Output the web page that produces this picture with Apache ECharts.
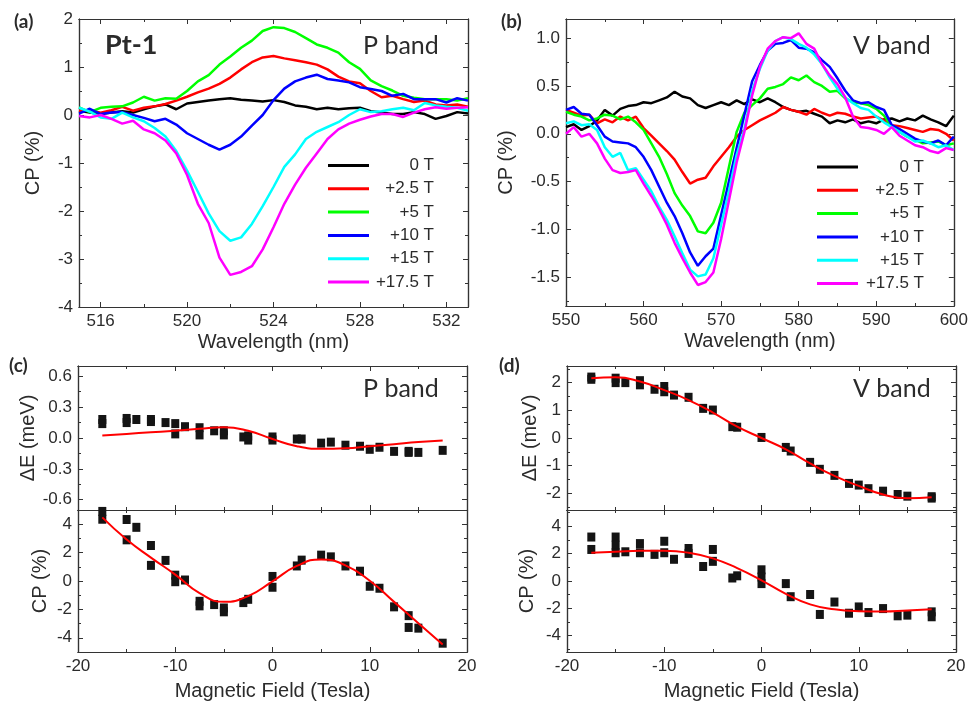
<!DOCTYPE html>
<html><head><meta charset="utf-8">
<script src="https://cdn.jsdelivr.net/npm/echarts@6/dist/echarts.min.js"></script>
<style>html,body{margin:0;padding:0;background:#fff}#c{width:971px;height:702px}</style>
</head><body><div id="c"></div>
<script>
// ---------- DATA ----------
const seriesNames = ['0 T', '+2.5 T', '+5 T', '+10 T', '+15 T', '+17.5 T'];
const seriesColors = ['#000000', '#ff0000', '#00ff00', '#0000ff', '#00ffff', '#ff00ff'];

// (a) P band spectra
const wlP = [515,515.5,516,516.5,517,517.5,518,518.5,519,519.5,520,520.5,521,521.5,522,522.5,523,523.5,524,524.5,525,525.5,526,526.5,527,527.5,528,528.5,529,529.5,530,530.5,531,531.5,532,532.5,533];
const p0T = [0.09,0.05,0.02,0.05,0.08,0.05,0.12,0.18,0.22,0.12, 0.24,0.27,0.30,0.33,0.35,0.32,0.30,0.28,0.31,0.27, 0.20,0.17,0.12,0.15,0.12,0.14,0.15,0.08,0.05,0.02, 0.02,0.06,0.02,-0.08,-0.02,0.06,0.03];
const p2_5T = [0.09,0.10,0.05,0.10,0.17,0.09,0.15,0.18,0.23,0.30, 0.38,0.47,0.55,0.65,0.78,0.95,1.10,1.20,1.23,1.18, 1.14,1.10,1.05,0.95,0.80,0.70,0.66,0.50,0.37,0.40, 0.33,0.27,0.30,0.22,0.20,0.22,0.17];
const p5T = [0.16,0.06,0.15,0.17,0.18,0.26,0.38,0.30,0.35,0.34, 0.50,0.70,0.83,1.05,1.22,1.40,1.55,1.75,1.83,1.81, 1.73,1.60,1.47,1.40,1.30,1.10,0.96,0.72,0.60,0.51, 0.40,0.36,0.33,0.33,0.33,0.30,0.35];
const p10T = [0.03,0.13,0.02,0.05,0.06,0.00,-0.06,-0.13,-0.08,-0.20, -0.38,-0.50,-0.62,-0.72,-0.62,-0.45,-0.22,0.00,0.31,0.55, 0.70,0.78,0.84,0.75,0.72,0.68,0.58,0.54,0.50,0.40, 0.44,0.33,0.33,0.33,0.26,0.35,0.30];
const p15T = [0.15,0.07,-0.05,-0.08,0.05,-0.05,-0.13,-0.27,-0.45,-0.75, -1.16,-1.60,-2.05,-2.42,-2.62,-2.55,-2.27,-1.90,-1.50,-1.08, -0.82,-0.50,-0.35,-0.25,-0.15,0.00,0.12,0.06,0.08,0.12, 0.15,0.10,0.25,0.20,0.17,0.15,0.09];
const p17_5T = [-0.02,-0.05,0.00,-0.08,-0.18,-0.12,-0.30,-0.38,-0.53,-0.80, -1.25,-1.85,-2.25,-2.97,-3.33,-3.27,-3.15,-2.80,-2.34,-1.85, -1.45,-1.10,-0.80,-0.50,-0.30,-0.18,-0.10,-0.03,0.02,0.02, -0.04,0.05,0.12,0.16,0.13,0.15,0.16];

// (b) V band spectra
const wlV = [550,551,552,553,554,555,556,557,558,559,560,561,562,563,564,565,566,567,568,569,570,571,572,573,574,575,576,577,578,579,580,581,582,583,584,585,586,587,588,589,590,591,592,593,594,595,596,597,598,599,600];
const v0T = [0.07,0.10,0.04,0.08,0.14,0.25,0.19,0.26,0.29,0.30, 0.33,0.32,0.35,0.38,0.44,0.39,0.37,0.30,0.27,0.30, 0.33,0.30,0.35,0.31,0.36,0.33,0.37,0.33,0.28,0.25, 0.23,0.24,0.21,0.18,0.11,0.14,0.12,0.15,0.11,0.13, 0.11,0.15,0.16,0.13,0.16,0.14,0.19,0.15,0.12,0.08,0.19];
const v2_5T = [0.25,0.22,0.19,0.20,0.11,0.15,0.12,0.18,0.14,0.18, 0.06,-0.02,-0.10,-0.18,-0.27,-0.40,-0.52,-0.48,-0.46,-0.34, -0.24,-0.14,-0.03,0.04,0.09,0.14,0.18,0.22,0.28,0.25, 0.23,0.20,0.26,0.22,0.19,0.22,0.21,0.18,0.16,0.17, 0.18,0.14,0.09,0.08,0.06,0.04,0.02,0.05,0.04,0.00,-0.07];
const v5T = [0.23,0.20,0.18,0.14,0.16,0.20,0.19,0.15,0.18,0.12, 0.04,-0.10,-0.24,-0.42,-0.62,-0.75,-0.86,-1.02,-1.04,-0.93, -0.72,-0.35,0.02,0.22,0.30,0.37,0.47,0.49,0.52,0.59, 0.56,0.61,0.54,0.50,0.44,0.45,0.37,0.33,0.32,0.30, 0.26,0.19,0.07,0.02,-0.03,-0.06,-0.10,-0.09,-0.08,-0.12,-0.10];
const v10T = [0.25,0.28,0.21,0.20,0.09,-0.03,-0.08,-0.09,-0.10,-0.14, -0.24,-0.38,-0.55,-0.72,-0.86,-1.04,-1.24,-1.38,-1.28,-1.20, -0.85,-0.50,-0.15,0.20,0.55,0.72,0.87,0.94,0.95,0.98, 0.90,0.89,0.85,0.77,0.70,0.58,0.45,0.35,0.32,0.33, 0.28,0.25,0.09,0.05,0.00,-0.05,-0.08,-0.10,-0.07,-0.12,-0.03];
const v15T = [0.11,0.13,0.09,0.10,0.04,-0.14,-0.24,-0.20,-0.38,-0.36, -0.48,-0.60,-0.76,-0.90,-1.07,-1.25,-1.42,-1.49,-1.47,-1.30, -0.95,-0.60,-0.22,0.05,0.45,0.68,0.87,0.97,1.01,0.99, 0.94,0.90,0.83,0.73,0.59,0.47,0.38,0.32,0.27,0.25, 0.18,0.12,0.07,0.02,-0.03,-0.08,-0.07,-0.10,-0.14,-0.12,-0.17];
const v17_5T = [0.00,0.07,-0.03,0.00,-0.10,-0.26,-0.38,-0.41,-0.40,-0.38, -0.52,-0.65,-0.79,-0.95,-1.14,-1.30,-1.45,-1.58,-1.55,-1.45, -1.10,-0.70,-0.30,0.02,0.40,0.70,0.89,0.97,1.01,1.00, 1.05,0.94,0.89,0.73,0.61,0.52,0.38,0.18,0.07,0.06, 0.04,0.00,0.07,-0.02,-0.07,-0.12,-0.14,-0.18,-0.20,-0.15,-0.17];

// (c) P band vs field
const cFieldE = [-17.5,-17.5,-15,-15,-14,-12.5,-12.5,-11,-10,-10,-9,-7.5,-7.5,-6,-5,-5,-3,-2.5,-2.5,0,0,2.5,3,5,6,7.5,9,10,11,12.5,14,14,15,17.5];
const cDE = [0.18,0.14,0.19,0.15,0.18,0.18,0.16,0.15,0.14,0.04,0.11,0.10,0.03,0.07,0.07,0.03,0.01,0.02,-0.02,0.01,-0.02,-0.01,-0.01,-0.05,-0.04,-0.07,-0.08,-0.11,-0.09,-0.13,-0.13,-0.14,-0.14,-0.12];
const cFieldCP = [-17.5,-17.5,-15,-15,-14,-12.5,-12.5,-11,-10,-10,-9,-7.5,-7.5,-6,-5,-5,-3,-2.5,0,0,2.5,3,5,6,7.5,9,10,11,12.5,14,14,15,17.5];
const cCP = [4.9,4.35,4.33,2.9,3.78,2.5,1.1,1.45,0.41,-0.05,0.07,-1.43,-1.75,-1.66,-1.9,-2.17,-1.52,-1.29,0.32,-0.44,1.06,1.47,1.82,1.7,1.06,0.69,-0.37,-0.51,-1.82,-2.44,-3.27,-3.32,-4.38];
const fitField = [-17.5,-15,-12.5,-10,-7.5,-5,-2.5,0,2.5,5,7.5,10,12.5,15,17.5];
const cFitE = [0.025,0.04,0.055,0.07,0.09,0.105,0.07,-0.01,-0.08,-0.105,-0.1,-0.08,-0.06,-0.04,-0.025];
const cFitCP = [4.48,2.92,1.65,0.45,-0.85,-1.47,-1.06,-0.02,1.06,1.52,1.1,0.02,-1.47,-2.97,-4.47];

// (d) V band vs field
const dFieldE = [-17.5,-17.5,-15,-15,-14,-12.5,-12.5,-11,-10,-10,-9,-7.5,-6,-5,-3,-2.5,0,2.5,3,5,6,7.5,9,10,11,12.5,14,15,17.5,17.5];
const dDE = [2.2,2.12,2.16,2.0,2.0,2.07,1.92,1.76,1.86,1.67,1.55,1.47,1.07,1.01,0.41,0.39,0.02,-0.34,-0.47,-0.88,-1.13,-1.35,-1.64,-1.7,-1.83,-1.92,-2.04,-2.1,-2.12,-2.17];
const dFieldCP = [-17.5,-17.5,-15,-15,-15,-14,-12.5,-12.5,-11,-10,-10,-9,-7.5,-7.5,-6,-5,-5,-3,-2.5,0,0,0,2.5,3,5,6,7.5,9,10,11,12.5,14,15,17.5,17.5];
const dCP = [3.22,2.31,3.22,2.62,2.07,2.14,2.74,2.07,1.95,2.91,2.07,1.59,2.38,2.02,1.06,2.31,1.44,0.22,0.38,0.82,0.29,-0.19,-0.19,-1.15,-0.99,-2.45,-1.54,-2.36,-1.9,-2.31,-2.02,-2.55,-2.5,-2.26,-2.62];
const dFitE = [2.16,2.19,2.04,1.73,1.37,0.92,0.41,0,-0.41,-0.92,-1.37,-1.73,-2.04,-2.18,-2.14];
const dFitCP = [2.07,2.14,2.21,2.21,2.07,1.66,0.94,0.05,-0.94,-1.71,-2.07,-2.21,-2.24,-2.16,-2.07];

// tick values
const xTicksP = [516,520,524,528,532], xMinorP = [518,522,526,530];
const yTicksA = [-4,-3,-2,-1,0,1,2], yMinorA = [-3.5,-2.5,-1.5,-0.5,0.5,1.5];
const xTicksV = [550,560,570,580,590,600], xMinorV = [555,565,575,585,595];
const yTicksB = [-1.5,-1,-0.5,0,0.5,1], yMinorB = [-1.75,-1.25,-0.75,-0.25,0.25,0.75];
const xTicksF = [-20,-10,0,10,20], xMinorF = [-15,-5,5,15];
const yTicksCE = [-0.6,-0.3,0,0.3,0.6], yMinorCE = [-0.45,-0.15,0.15,0.45];
const yTicksCP = [-4,-2,0,2,4], yMinorCP = [-5,-3,-1,1,3,5];
const yTicksDE = [-2,-1,0,1,2], yMinorDE = [-2.5,-1.5,-0.5,0.5,1.5,2.5];

// ---------- BUILD ----------
const FONT = '"Liberation Sans", Arial, sans-serif';
const HFONT = 'Lato, "Open Sans", sans-serif';
const TXT = '#2b2b2b';
const AX = '#333333';
const grid = [], xAxis = [], yAxis = [], series = [];
const fInt = v => String(v);
const f1 = v => v.toFixed(1);

function mkAxis(gi, rng, pos, ticks, len, label, name) {
  const a = {
    type: 'value', gridIndex: gi, min: rng[0], max: rng[1], position: pos,
    axisLine: {show: true, onZero: false, lineStyle: {color: AX, width: 1.2}},
    axisTick: {show: true, inside: true, length: len, customValues: ticks, lineStyle: {color: AX, width: 1}},
    minorTick: {show: false}, splitLine: {show: false},
    axisLabel: label ? {show: true, customValues: label.values, formatter: label.fmt, fontSize: 17, fontFamily: FONT, color: TXT, margin: 6} : {show: false},
    silent: true
  };
  if (name) Object.assign(a, {name: name.text, nameLocation: 'middle', nameGap: name.gap,
    nameTextStyle: {fontSize: 20, fontFamily: FONT, color: TXT}});
  return a;
}
function panel(rect, xr, xMaj, xMin, xLab, xName, yr, yMaj, yMin, yLab, yName) {
  const gi = grid.length;
  grid.push({left: rect[0], top: rect[1], width: rect[2], height: rect[3], containLabel: false});
  const xi = xAxis.length, yi = yAxis.length;
  xAxis.push(mkAxis(gi, xr, 'bottom', xMaj, 5, xLab, xName));
  xAxis.push(mkAxis(gi, xr, 'bottom', xMin, 3, null, null));
  xAxis.push(mkAxis(gi, xr, 'top', xMaj, 5, null, null));
  xAxis.push(mkAxis(gi, xr, 'top', xMin, 3, null, null));
  yAxis.push(mkAxis(gi, yr, 'left', yMaj, 5, yLab, yName));
  yAxis.push(mkAxis(gi, yr, 'left', yMin, 3, null, null));
  yAxis.push(mkAxis(gi, yr, 'right', yMaj, 5, null, null));
  yAxis.push(mkAxis(gi, yr, 'right', yMin, 3, null, null));
  return {xi, yi};
}
const zip = (xs, ys) => xs.map((x, i) => [x, ys[i]]);

// (a)
const A = panel([79, 19, 389, 288], [515, 533], xTicksP, xMinorP, {values: xTicksP, fmt: fInt}, {text: 'Wavelength (nm)', gap: 25},
  [-4, 2], yTicksA, yMinorA, {values: yTicksA, fmt: fInt}, {text: 'CP (%)', gap: 36});
[p0T, p2_5T, p5T, p10T, p15T, p17_5T].forEach((arr, k) => series.push({
  type: 'line', name: seriesNames[k], xAxisIndex: A.xi, yAxisIndex: A.yi, data: zip(wlP, arr),
  symbol: 'none', showSymbol: false, lineStyle: {color: seriesColors[k], width: 2.5}, itemStyle: {color: seriesColors[k]}, z: 2 + k
}));
// (b)
const B = panel([566, 19, 389, 287], [550, 600], xTicksV, xMinorV, {values: xTicksV, fmt: fInt}, {text: 'Wavelength (nm)', gap: 25},
  [-1.8, 1.2], yTicksB, yMinorB, {values: yTicksB, fmt: f1}, {text: 'CP (%)', gap: 50});
[v0T, v2_5T, v5T, v10T, v15T, v17_5T].forEach((arr, k) => series.push({
  type: 'line', name: seriesNames[k], xAxisIndex: B.xi, yAxisIndex: B.yi, data: zip(wlV, arr),
  symbol: 'none', showSymbol: false, lineStyle: {color: seriesColors[k], width: 2.5}, itemStyle: {color: seriesColors[k]}, z: 2 + k
}));
// (c)
const C1 = panel([78, 366, 389, 144], [-20, 20], xTicksF, xMinorF, null, null,
  [-0.7, 0.7], yTicksCE, yMinorCE, {values: yTicksCE, fmt: f1}, {text: 'ΔE (meV)', gap: 35});
const C2 = panel([78, 510, 389, 144], [-20, 20], xTicksF, xMinorF, {values: xTicksF, fmt: fInt}, {text: 'Magnetic Field (Tesla)', gap: 29},
  [-5, 5], yTicksCP, yMinorCP, {values: [-4, -2, 0, 2, 4], fmt: fInt}, {text: 'CP (%)', gap: 28});
// (d)
const D1 = panel([567, 366, 389, 144], [-20, 20], xTicksF, xMinorF, null, null,
  [-2.6, 2.6], yTicksDE, yMinorDE, {values: yTicksDE, fmt: fInt}, {text: 'ΔE (meV)', gap: 27});
const D2 = panel([567, 510, 389, 143], [-20, 20], xTicksF, xMinorF, {values: xTicksF, fmt: fInt}, {text: 'Magnetic Field (Tesla)', gap: 29},
  [-5.2, 5.2], yTicksCP, yMinorCP, {values: [-4, -2, 0, 2, 4], fmt: fInt}, {text: 'CP (%)', gap: 30});

function addFieldPanel(P, fx, fy, fitY) {
  series.push({type: 'scatter', xAxisIndex: P.xi, yAxisIndex: P.yi, data: zip(fx, fy), symbol: 'rect', symbolSize: [8, 9],
    itemStyle: {color: '#141414', opacity: 1}, clip: false, z: 3});
  series.push({type: 'line', xAxisIndex: P.xi, yAxisIndex: P.yi, data: zip(fitField, fitY), smooth: true, symbol: 'none', showSymbol: false,
    lineStyle: {color: '#ff0000', width: 2}, z: 4});
}
addFieldPanel(C1, cFieldE, cDE, cFitE);
addFieldPanel(C2, cFieldCP, cCP, cFitCP);
addFieldPanel(D1, dFieldE, dDE, dFitE);
addFieldPanel(D2, dFieldCP, dCP, dFitCP);

function legendAt(left, top, w) {
  return {
    left, top, orient: 'vertical', icon: 'rect', itemWidth: 41, itemHeight: 3, itemGap: 6.3, selectedMode: false,
    data: seriesNames, formatter: n => '{t|' + n + '}',
    textStyle: {rich: {t: {width: w, align: 'right', fontSize: 17, lineHeight: 17, fontFamily: FONT, color: TXT}}}
  };
}
const txt = (s, x, y, size, weight) => ({type: 'text', x, y, silent: true,
  style: {text: s, fontSize: size, fontWeight: weight, fontFamily: HFONT, fill: TXT, align: 'left', verticalAlign: 'middle'}});

const option = {
  animation: false,
  backgroundColor: '#ffffff',
  grid, xAxis, yAxis, series,
  legend: [legendAt(323, 152, 60), legendAt(812, 153.5, 61)],
  graphic: [
    txt('(a)', 14, 22, 19, 'bold'), txt('(b)', 501, 22, 19, 'bold'),
    txt('(c)', 9, 366, 19, 'bold'), txt('(d)', 499, 366, 19, 'bold'),
    txt('Pt-1', 105, 45, 27, 'bold'),
    txt('P band', 363, 46, 25, 'normal'), txt('V band', 853, 46, 25, 'normal'),
    txt('P band', 363, 389, 25, 'normal'), txt('V band', 853, 389, 25, 'normal')
  ]
};
const chart = echarts.init(document.getElementById('c'), null, {renderer: 'canvas'});
chart.setOption(option);
</script></body></html>
